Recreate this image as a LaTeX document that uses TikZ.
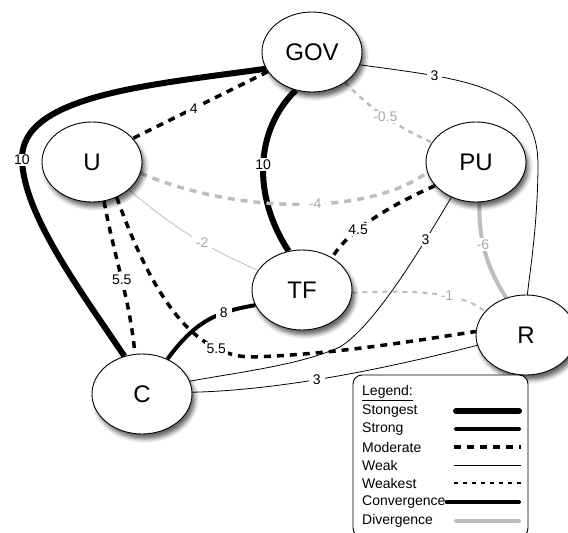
\documentclass[tikz,border=0pt]{standalone}
\usepackage{fontspec}
\setmainfont{Liberation Sans}
\usetikzlibrary{shapes.geometric,shadows.blur,backgrounds}
\definecolor{divgray}{gray}{0.74}
\definecolor{divtext}{gray}{0.66}
\begin{document}
\begin{tikzpicture}[x=1pt,y=-1pt,
  actor/.style={ellipse, draw, line width=0.9pt, fill=white,
    minimum width=100pt, minimum height=80pt, inner sep=0pt,
    font=\fontsize{24}{28}\selectfont,
    blur shadow={shadow xshift=3pt, shadow yshift=-5pt,
      shadow blur radius=4pt, shadow opacity=60}},
  strongest/.style={line width=6pt},
  strong/.style={line width=4pt},
  moderate/.style={line width=3.5pt, dash pattern=on 7pt off 6pt},
  weak/.style={line width=0.8pt},
  weakest/.style={line width=1.5pt, dash pattern=on 4pt off 5pt},
  divergent/.style={draw=divgray},
  wt/.style={fill=white, inner xsep=4pt, inner ysep=1.5pt, font=\fontsize{14}{16}\selectfont},
  wtdiv/.style={wt, text=divtext},
  lgd/.style={anchor=west, inner sep=0pt, font=\fontsize{14}{16}\selectfont},
  sample/.style={line cap=round}
]
\useasboundingbox (0,0) rectangle (568,533);

% actors
\node[actor] (GOV) at (312,52) {GOV};
\node[actor] (U) at (92,162) {U};
\node[actor] (PU) at (476,162) {PU};
\node[actor] (TF) at (302,290) {TF};
\node[actor] (C) at (142,394) {C};
\node[actor] (R) at (526,335) {R};

% relations
\begin{scope}[on background layer]
\draw[strongest] (GOV.200) .. controls (150,85) and (20,95) .. (22,160) node[wt, inner xsep=1.5pt]{10}
  .. controls (24,215) and (80,290) .. (C.115);
\draw[moderate] (GOV.204) -- node[wt, pos=0.55]{4} (U.30);
\draw[strongest] (GOV.247) .. controls (255,130) and (252,195) .. node[wt, inner xsep=1.5pt, pos=0.5]{10} (TF.109);
\draw[divergent, line width=2.5pt, dash pattern=on 5pt off 5pt] (GOV.317) to[bend right=10] node[wtdiv, inner xsep=1pt]{-0.5} (PU.156);
\draw[weak] (GOV.345) .. controls (470,80) and (540,85) .. node[wt, pos=0.25]{3} (538,170)
  .. controls (537,230) and (530,270) .. (R.88);
\draw[moderate, divergent] (U.347) .. controls (240,215) and (370,215) .. node[wtdiv, pos=0.55]{-4} (PU.192);
\draw[weak, divergent] (U.323) to[bend right=8] node[wtdiv, pos=0.6]{-2} (TF.156);
\draw[moderate] (U.287) .. controls (115,260) and (130,300) .. node[wt, inner xsep=1pt, pos=0.5]{5.5} (C.100);
\draw[moderate] (U.305) .. controls (150,290) and (190,355) .. node[wt, inner xsep=2pt, pos=0.8]{5.5} (250,357)
  .. controls (330,355) and (420,340) .. (R.176);
\draw[strong] (TF.198) .. controls (215,312) and (195,322) .. node[wt, pos=0.3]{8} (C.54);
\draw[moderate] (PU.210) .. controls (380,210) and (345,235) .. node[wt, inner xsep=2pt, pos=0.6]{4.5} (TF.47);
\draw[weak] (PU.235) .. controls (420,250) and (375,325) .. node[wt, pos=0.25]{3} (340,347)
  .. controls (300,365) and (240,372) .. (C.15);
\draw[divergent, line width=2pt, dash pattern=on 5pt off 5pt] (TF.357) .. controls (420,290) and (460,292) .. node[wtdiv, pos=0.6]{-1} (R.150);
\draw[divergent, strong] (PU.275) .. controls (478,240) and (488,270) .. node[wtdiv, inner xsep=1.5pt, pos=0.4]{-6} (R.118);
\draw[weak] (C.2) .. controls (280,390) and (380,370) .. node[wt, pos=0.45]{3} (R.192);
\end{scope}

% legend
\draw[line width=0.9pt, rounded corners=9pt, fill=white] (353,375) rectangle (528,537);
\node[lgd] (lgTitle) at (362,393) {\underline{Legend:}};
\node[lgd] (lgA) at (362,411) {Stongest};
\node[lgd] (lgB) at (362,429) {Strong};
\node[lgd] (lgC) at (362,447) {Moderate};
\node[lgd] (lgD) at (362,465) {Weak};
\node[lgd] (lgE) at (362,483) {Weakest};
\node[lgd] (lgF) at (362,502) {Convergence};
\node[lgd] (lgG) at (362,521) {Divergence};
\draw[sample, strongest] (456,411) -- (519,411);
\draw[sample, strong] (456,429) -- (519,429);
\draw[moderate] (454,447) -- (521,447);
\draw[weak] (454,465) -- (521,465);
\draw[weakest] (454,483) -- (521,483);
\draw[sample, strong] (lgF.east) ++(1pt,0) -- (519,502);
\draw[sample, strong, divergent] (456,521) -- (519,521);
\end{tikzpicture}
\end{document}
